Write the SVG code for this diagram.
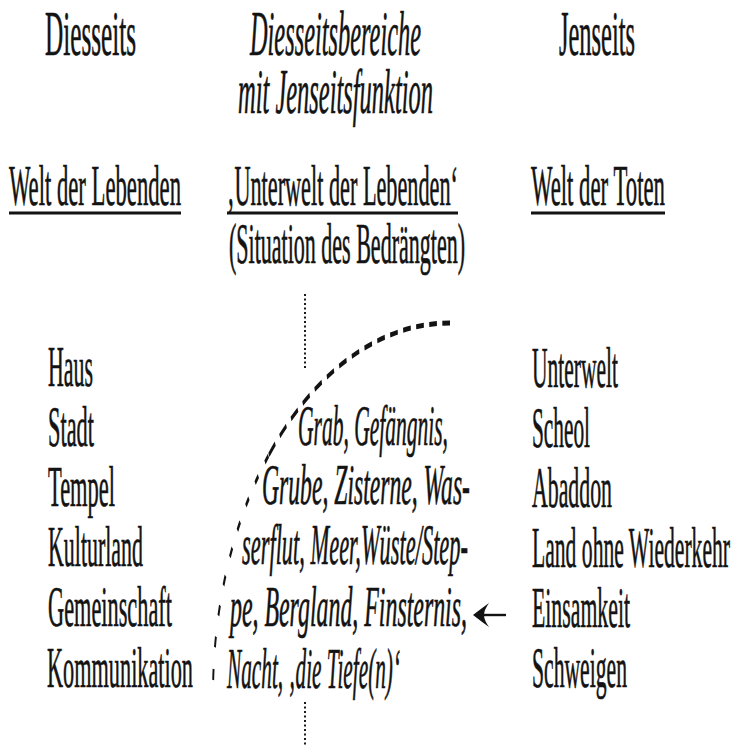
<svg xmlns="http://www.w3.org/2000/svg" width="736" height="746" viewBox="0 0 736 746">
<style>
  text { font-family: "Liberation Serif", "Times New Roman", serif; fill: #131313; stroke: #131313; stroke-width: 0.7; }
  .h { font-size: 63px; }
  .b { font-size: 56px; }
  .i { font-style: italic; }
  .ul { stroke: #131313; stroke-width: 3; fill: none; }
  .dot { stroke: #1a1a1a; stroke-width: 2; stroke-dasharray: 2 2.5; fill: none; }
  .dash { stroke: #131313; stroke-width: 5; fill: none; }
  .arrow { stroke: #131313; stroke-width: 2.4; fill: none; }
  .ahead { fill: #131313; stroke: none; }
</style>
<rect width="736" height="746" fill="#ffffff"/>

<g id="col-diesseits">
  <g id="h-diesseits"><text class="h" x="45" y="55" textLength="91" lengthAdjust="spacingAndGlyphs">Diesseits</text></g>
  <g id="sub-welt-lebenden">
    <text class="b" x="9" y="205" textLength="172" lengthAdjust="spacingAndGlyphs">Welt der Lebenden</text>
    <line class="ul" x1="9" y1="213" x2="181" y2="213"/>
  </g>
  <g id="item-haus"><text class="b" x="48" y="386" textLength="45" lengthAdjust="spacingAndGlyphs">Haus</text></g>
  <g id="item-stadt"><text class="b" x="48" y="446" textLength="46" lengthAdjust="spacingAndGlyphs">Stadt</text></g>
  <g id="item-tempel"><text class="b" x="48" y="506" textLength="67" lengthAdjust="spacingAndGlyphs">Tempel</text></g>
  <g id="item-kulturland"><text class="b" x="48" y="566" textLength="95" lengthAdjust="spacingAndGlyphs">Kulturland</text></g>
  <g id="item-gemeinschaft"><text class="b" x="48" y="626" textLength="124" lengthAdjust="spacingAndGlyphs">Gemeinschaft</text></g>
  <g id="item-kommunikation"><text class="b" x="47" y="687" textLength="146" lengthAdjust="spacingAndGlyphs">Kommunikation</text></g>
</g>

<g id="col-mitte">
  <g id="h-diesseitsbereiche">
    <text class="h i" x="250" y="55" textLength="171" lengthAdjust="spacingAndGlyphs">Diesseitsbereiche</text>
    <text class="h i" x="238" y="113" textLength="195" lengthAdjust="spacingAndGlyphs">mit Jenseitsfunktion</text>
  </g>
  <g id="sub-unterwelt-lebenden">
    <text class="b" x="227" y="205" textLength="231" lengthAdjust="spacingAndGlyphs">‚Unterwelt der Lebenden‘</text>
    <line class="ul" x1="227" y1="213" x2="458" y2="213"/>
    <text class="b" x="229" y="263" textLength="236" lengthAdjust="spacingAndGlyphs">(Situation des Bedrängten)</text>
  </g>
  <g id="items-bereiche">
    <text class="b i" x="298" y="445" textLength="150" lengthAdjust="spacingAndGlyphs">Grab, Gefängnis,</text>
    <text class="b i" x="262" y="504" textLength="208" lengthAdjust="spacingAndGlyphs">Grube, Zisterne, Was-</text>
    <text class="b i" x="242" y="564" textLength="226" lengthAdjust="spacingAndGlyphs">serflut, Meer,Wüste/Step-</text>
    <text class="b i" x="230" y="626" textLength="237" lengthAdjust="spacingAndGlyphs">pe, Bergland, Finsternis,</text>
    <text class="b i" x="227" y="688" textLength="173" lengthAdjust="spacingAndGlyphs">Nacht, ‚die Tiefe(n)‘</text>
  </g>
</g>

<g id="col-jenseits">
  <g id="h-jenseits"><text class="h" x="559" y="55" textLength="76" lengthAdjust="spacingAndGlyphs">Jenseits</text></g>
  <g id="sub-welt-toten">
    <text class="b" x="531" y="205" textLength="134" lengthAdjust="spacingAndGlyphs">Welt der Toten</text>
    <line class="ul" x1="531" y1="213" x2="665" y2="213"/>
  </g>
  <g id="item-unterwelt"><text class="b" x="532" y="387" textLength="86" lengthAdjust="spacingAndGlyphs">Unterwelt</text></g>
  <g id="item-scheol"><text class="b" x="532" y="447" textLength="58" lengthAdjust="spacingAndGlyphs">Scheol</text></g>
  <g id="item-abaddon"><text class="b" x="532" y="507" textLength="80" lengthAdjust="spacingAndGlyphs">Abaddon</text></g>
  <g id="item-land"><text class="b" x="532" y="567" textLength="198" lengthAdjust="spacingAndGlyphs">Land ohne Wiederkehr</text></g>
  <g id="item-einsamkeit"><text class="b" x="532" y="627" textLength="98" lengthAdjust="spacingAndGlyphs">Einsamkeit</text></g>
  <g id="item-schweigen"><text class="b" x="532" y="687" textLength="95" lengthAdjust="spacingAndGlyphs">Schweigen</text></g>
</g>

<g id="connectors">
  <line class="dot" x1="305" y1="294" x2="305" y2="370"/>
  <line class="dot" x1="305" y1="702" x2="305" y2="746"/>
  <g transform="translate(450,0) scale(0.385,1)">
    <path class="dash" stroke-dasharray="20 14" d="M0 323 A615.6 372 0 0 0 -471.6 455.8"/>
    <path class="dash" stroke-dasharray="11 22" d="M-471.6 455.8 A615.6 372 0 0 0 -615.6 695"/>
  </g>
  <line class="arrow" x1="506" y1="615" x2="481" y2="615"/>
  <path class="ahead" d="M473 615 Q482 608 489 603 Q484 610 484 615 Q484 620 489 627 Q482 622 473 615 Z"/>
</g>
</svg>
